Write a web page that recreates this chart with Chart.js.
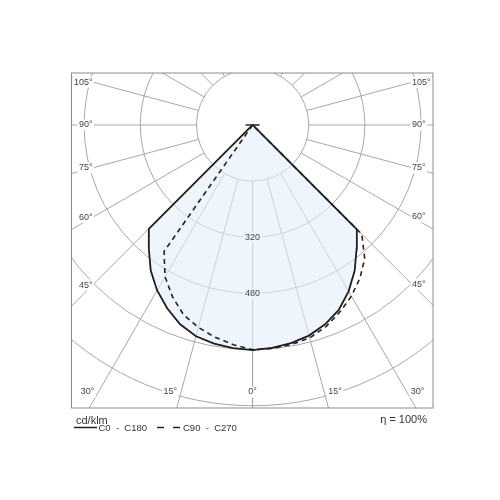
<!DOCTYPE html>
<html>
<head>
<meta charset="utf-8">
<script src="https://cdn.jsdelivr.net/npm/chart.js@4.4.1/dist/chart.umd.min.js"></script>
<style>
  html, body { margin: 0; padding: 0; background: #fff; }
  #wrap { width: 500px; height: 500px; position: relative; }
</style>
</head>
<body>
<div id="wrap"><canvas id="ldc"></canvas></div>
<script>
// ── Photometric data, cd/klm, gamma measured from nadir ──
const gammaDeg = [0, 5, 10, 15, 20, 25, 30, 35, 40, 45, 50, 55, 60, 65, 70, 75, 80, 85, 90];
const c0   = [641, 637, 631, 621, 604, 581, 547, 507, 461, 420, 0, 0, 0, 0, 0, 0, 0, 0, 0];
const c180 = [641, 638, 632, 623, 604, 576, 544, 506, 460, 418, 0, 0, 0, 0, 0, 0, 0, 0, 0];
const c90  = [640, 639, 635, 628, 611, 588, 563, 533, 497, 440, 0, 0, 0, 0, 0, 0, 0, 0, 0];
const c270 = [640, 628, 614, 597, 575, 540, 499, 440, 0, 0, 0, 0, 0, 0, 0, 0, 0, 0, 0];

const seriesNames = ['C0 - C180', 'C90 - C270'];
const ringValues = [160, 320, 480, 640, 800, 960];
const ringLabels = [320, 480];
const angleTicks = [0, 15, 30, 45, 60, 75, 90, 105, 120, 135, 150, 165, 180];
const unitLabel = 'cd/klm';
const efficiencyLabel = 'η = 100%';

const LABEL_FONT = '9px "Liberation Sans", Arial, sans-serif';
const GRID = '#a8a8a8';
const FILL_BG = '#eef5fc';

// left half (C180 / C270) is mirrored, the path runs top-left -> nadir -> top-right
function halfPlane(values, side) {
  return gammaDeg.map((g, i) => {
    const a = g * Math.PI / 180;
    return { x: side * values[i] * Math.sin(a), y: -values[i] * Math.cos(a) };
  });
}
const solidPts = halfPlane(c180, -1).reverse().concat(halfPlane(c0, 1).slice(1));
const dashedPts = halfPlane(c270, -1).reverse().concat(halfPlane(c90, 1).slice(1));

function boxedText(ctx, str, x, y, align, bg) {
  const w = ctx.measureText(str).width;
  const left = align === 'right' ? x - w : align === 'center' ? x - w / 2 : x;
  ctx.fillStyle = bg || '#fff';
  ctx.fillRect(left - 1.5, y - 5.5, w + 3, 11);
  ctx.fillStyle = '#444';
  ctx.textAlign = align;
  ctx.textBaseline = 'middle';
  ctx.fillText(str, x, y);
}

const polarGrid = {
  id: 'polarGrid',
  beforeDraw(chart) {
    const { ctx, chartArea: a, scales: { x, y } } = chart;
    const cx = x.getPixelForValue(0), cy = y.getPixelForValue(0);
    const px = v => x.getPixelForValue(v) - cx;
    ctx.save();
    ctx.beginPath();
    ctx.rect(a.left, a.top, a.right - a.left, a.bottom - a.top);
    ctx.clip();
    ctx.strokeStyle = GRID;
    ctx.lineWidth = 1;
    ringValues.forEach(v => {
      ctx.beginPath();
      ctx.arc(cx, cy, px(v), 0, Math.PI * 2);
      ctx.stroke();
    });
    const r0 = px(ringValues[0]), r1 = px(ringValues[ringValues.length - 1]) + 200;
    angleTicks.forEach(g => [-1, 1].forEach(s => {
      const t = g * Math.PI / 180, dx = s * Math.sin(t), dy = Math.cos(t);
      ctx.beginPath();
      ctx.moveTo(cx + dx * r0, cy + dy * r0);
      ctx.lineTo(cx + dx * r1, cy + dy * r1);
      ctx.stroke();
    }));
    ctx.restore();
  },
  afterDatasetsDraw(chart) {
    const { ctx, chartArea: a, scales: { x, y } } = chart;
    const cx = x.getPixelForValue(0), cy = y.getPixelForValue(0);
    const px = v => x.getPixelForValue(v) - cx;
    ctx.save();
    ctx.font = LABEL_FONT;

    // ring values on the nadir axis
    ringLabels.forEach(v => boxedText(ctx, String(v), cx, cy + px(v), 'center', FILL_BG));

    // gamma labels along the frame
    const inL = a.left + 21, inR = a.right - 21, inB = a.bottom - 16, inT = a.top + 6;
    angleTicks.forEach(g => [-1, 1].forEach(s => {
      if (g === 0 && s > 0) return;
      const t = g * Math.PI / 180, dx = s * Math.sin(t), dy = Math.cos(t);
      const label = g + '°';
      const sideY = Math.abs(dx) > 1e-6 ? cy + ((s < 0 ? inL : inR) - cx) / dx * dy : null;
      if (dy > 1e-6 && (sideY === null || sideY > inB)) {
        const bx = cx + (inB - cy) / dy * dx;
        if (g === 0) boxedText(ctx, label, bx, inB, 'center');
        else boxedText(ctx, label, bx + s * 4, inB, s < 0 ? 'right' : 'left');
      } else if (sideY !== null && sideY >= inT) {
        boxedText(ctx, label, s < 0 ? inL : inR, sideY, s < 0 ? 'right' : 'left');
      }
    }));

    // luminaire mark at the origin
    ctx.strokeStyle = '#222';
    ctx.lineWidth = 1.5;
    ctx.beginPath();
    ctx.moveTo(cx - 7, cy);
    ctx.lineTo(cx + 7, cy);
    ctx.stroke();
    ctx.restore();
  },
  afterDraw(chart) {
    const { ctx, chartArea: a } = chart;
    ctx.save();
    ctx.strokeStyle = '#8c8c8c';
    ctx.lineWidth = 1;
    ctx.strokeRect(a.left, a.top, a.right - a.left, a.bottom - a.top);

    ctx.fillStyle = '#333';
    ctx.textBaseline = 'alphabetic';
    ctx.font = '11px "Liberation Sans", Arial, sans-serif';
    ctx.textAlign = 'left';
    ctx.fillText(unitLabel, a.left + 4.5, a.bottom + 15.5);
    ctx.textAlign = 'right';
    ctx.fillText(efficiencyLabel, a.right - 6, a.bottom + 15);

    // legend row
    const ly = a.bottom + 19.5;
    ctx.strokeStyle = '#222';
    ctx.lineWidth = 1.5;
    ctx.beginPath();
    ctx.moveTo(a.left + 2.5, ly);
    ctx.lineTo(a.left + 25.5, ly);
    ctx.stroke();
    ctx.setLineDash([7, 9]);
    ctx.beginPath();
    ctx.moveTo(a.left + 85.5, ly);
    ctx.lineTo(a.left + 109, ly);
    ctx.stroke();
    ctx.setLineDash([]);
    ctx.font = '9.5px "Liberation Sans", Arial, sans-serif';
    ctx.textAlign = 'left';
    ctx.fillStyle = '#333';
    ctx.fillText(seriesNames[0].replace(/ - /, '  -  '), a.left + 27, ly + 3.5);
    ctx.fillText(seriesNames[1].replace(/ - /, '  -  '), a.left + 111.5, ly + 3.5);
    ctx.restore();
  }
};

new Chart(document.getElementById('ldc'), {
  type: 'scatter',
  data: {
    datasets: [
      {
        label: seriesNames[0],
        data: solidPts,
        showLine: true,
        borderColor: '#1e1e1e',
        borderWidth: 1.8,
        backgroundColor: 'rgba(226, 238, 250, 0.6)',
        fill: 'shape',
        pointRadius: 0,
        tension: 0
      },
      {
        label: seriesNames[1],
        data: dashedPts,
        showLine: true,
        borderColor: '#222',
        borderWidth: 1.6,
        borderDash: [5, 4],
        fill: false,
        pointRadius: 0,
        tension: 0
      }
    ]
  },
  options: {
    responsive: true,
    maintainAspectRatio: false,
    animation: false,
    events: [],
    layout: { padding: { left: 71.5, right: 67, top: 73, bottom: 92 } },
    scales: {
      x: { type: 'linear', min: -516, max: 514, display: false },
      y: { type: 'linear', min: -806, max: 148, display: false }
    },
    plugins: {
      legend: { display: false },
      tooltip: { enabled: false },
      filler: { drawTime: 'beforeDatasetsDraw' }
    }
  },
  plugins: [polarGrid]
});
</script>
</body>
</html>
